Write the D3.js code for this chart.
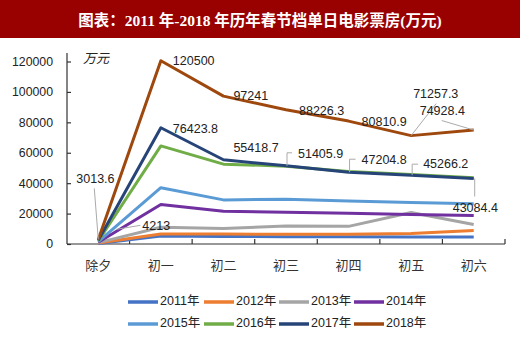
<!DOCTYPE html>
<html><head><meta charset="utf-8">
<script src="https://cdn.jsdelivr.net/npm/d3@7"></script>
<style>
body{margin:0;background:#fff;}
svg{display:block;}
</style></head>
<body>
<svg id="chart" width="520" height="343"></svg>
<script>
const categories = ["除夕","初一","初二","初三","初四","初五","初六"];
const seriesNames = ["2011年","2012年","2013年","2014年","2015年","2016年","2017年","2018年"];
const s2011 = [400, 5300, 5000, 4800, 4700, 4600, 4600];
const s2012 = [600, 6600, 6500, 6400, 6400, 6900, 8800];
const s2013 = [900, 11000, 10200, 11900, 11600, 20700, 12800];
const s2014 = [1200, 26000, 21500, 20900, 20200, 19400, 18800];
const s2015 = [1600, 37000, 29000, 29500, 28200, 27300, 26500];
const s2016 = [2000, 64500, 52500, 51200, 47700, 45700, 43600];
const s2017 = [2400, 76423.8, 55418.7, 51405.9, 47204.8, 45266.2, 43084.4];
const s2018 = [3013.6, 120500, 97241, 88226.3, 80810.9, 71257.3, 74928.4];
const seriesValues = [s2011, s2012, s2013, s2014, s2015, s2016, s2017, s2018];
const colors = ["#4472C4","#ED7D31","#A5A5A5","#7030A0","#5B9BD5","#70AD47","#264478","#9E480E"];
const yTicks = [0, 20000, 40000, 60000, 80000, 100000, 120000];
const titleText = "图表：2011 年-2018 年历年春节档单日电影票房(万元)";
const unitText = "万元";
// annotations: series index, category index, label text
const labels = [
  {s:7,c:1,t:"120500",dx:12,dy:1},
  {s:7,c:2,t:"97241",dx:10,dy:0.5},
  {s:7,c:3,t:"88226.3",dx:13,dy:2},
  {s:7,c:4,t:"80810.9",dx:13,dy:1.5},
  {s:7,c:5,t:"71257.3",dx:2,dy:-41,leader:[[0,0],[25,-32]]},
  {s:7,c:6,t:"74928.4",dx:-54,dy:-18,leader:[[0,0],[-32,-9.5]]},
  {s:6,c:1,t:"76423.8",dx:12,dy:2},
  {s:6,c:2,t:"55418.7",dx:10,dy:-11.5},
  {s:6,c:3,t:"51405.9",dx:12,dy:-11.5,leader:[[1,0],[1,-13],[6,-13]]},
  {s:6,c:4,t:"47204.8",dx:13,dy:-12,leader:[[1,0],[1,-13],[7,-13]]},
  {s:6,c:5,t:"45266.2",dx:12,dy:-10,leader:[[1,0],[1,-11],[7,-11]]},
  {s:6,c:6,t:"43084.4",dx:-21,dy:30,leader:[[1,0],[1,18]]},
  {s:7,c:0,t:"3013.6",dx:-22,dy:-60,leader:[[0,0],[-4,-51]]},
  {s:6,c:0,t:"4213",dx:44,dy:-13.5,leader:[[18,-11],[42,-15]]}
];

const svg = d3.select("#chart");
const W = 520, H = 343;

// title bar
svg.append("rect").attr("x",0).attr("y",0).attr("width",W).attr("height",38).attr("fill","#990000");
svg.append("text").attr("x",W/2).attr("y",26).attr("text-anchor","middle")
  .attr("fill","#fff").attr("font-weight","bold")
  .attr("font-family","'Liberation Serif','Noto Sans CJK SC',serif").attr("font-size",15.5)
  .text(titleText);

const left = 67, right = 505, y0 = 244, yTop = 61.5;
const x = d3.scaleBand().domain(categories).range([left, right]).padding(0);
const xc = c => x(c) + x.bandwidth()/2;
const y = d3.scaleLinear().domain([0,120000]).range([y0, yTop]);

// y axis
const yAxis = d3.axisLeft(y).tickValues(yTicks).tickFormat(d3.format("d")).tickSizeInner(-4).tickSizeOuter(0).tickPadding(14);
const gy = svg.append("g").attr("transform",`translate(${left},0)`).call(yAxis);
gy.select(".domain").remove();
gy.selectAll(".tick line").attr("stroke","#333").attr("stroke-width",1.2);
gy.selectAll(".tick text").attr("font-family","'Liberation Sans',Arial,sans-serif").attr("font-size",12.3).attr("fill","#222");
svg.append("line").attr("x1",left).attr("x2",left).attr("y1",y0).attr("y2",53).attr("stroke","#333").attr("stroke-width",1.2);

// x axis
const xAxis = d3.axisBottom(x).tickSize(0).tickPadding(26);
const gx = svg.append("g").attr("transform",`translate(0,${y0})`).call(xAxis);
gx.select(".domain").remove();
gx.selectAll(".tick text").attr("font-family","'Noto Sans CJK SC',sans-serif").attr("font-size",13).attr("fill","#333").attr("dy","0");
svg.append("line").attr("x1",left).attr("x2",right).attr("y1",y0).attr("y2",y0).attr("stroke","#333").attr("stroke-width",1.2);
// boundary ticks
const bounds = categories.slice(1).map(c => x(c)).concat([right]);
svg.selectAll(".btick").data(bounds).enter().append("line")
  .attr("x1",d=>d).attr("x2",d=>d).attr("y1",y0).attr("y2",y0-5).attr("stroke","#333").attr("stroke-width",1.2);

// unit
svg.append("text").attr("x",83).attr("y",62.5).attr("font-family","'Noto Sans CJK SC',sans-serif")
  .attr("font-size",13).attr("font-style","italic").attr("fill","#222").text(unitText);

// lines
const line = d3.line().x((d,i)=>xc(categories[i])).y(d=>y(d));
seriesValues.forEach((vals,i)=>{
  svg.append("path").datum(vals).attr("d",line).attr("fill","none")
    .attr("stroke",colors[i]).attr("stroke-width",3).attr("stroke-linejoin","round");
});

// labels
labels.forEach(l=>{
  const px = xc(categories[l.c]), py = y(seriesValues[l.s][l.c]);
  if(l.leader){
    svg.append("polyline").attr("points",l.leader.map(p=>[px+p[0],py+p[1]].join(",")).join(" "))
      .attr("fill","none").attr("stroke","#aaa").attr("stroke-width",1);
  }
  svg.append("text").attr("x",px+l.dx).attr("y",py+l.dy).attr("dominant-baseline","middle")
    .attr("font-family","'Liberation Sans',Arial,sans-serif").attr("font-size",12.5).attr("fill","#222").text(l.t);
});

// legend
const legX = [128, 204, 279, 354], legY = [302, 324];
seriesNames.forEach((n,i)=>{
  const lx = legX[i%4], ly = legY[Math.floor(i/4)];
  svg.append("line").attr("x1",lx).attr("x2",lx+30).attr("y1",ly).attr("y2",ly).attr("stroke",colors[i]).attr("stroke-width",3.5);
  svg.append("text").attr("x",lx+32).attr("y",ly).attr("dominant-baseline","middle")
    .attr("font-family","'Liberation Sans','Noto Sans CJK SC',sans-serif").attr("font-size",12.5).attr("fill","#222").text(n);
});
</script>
</body></html>
